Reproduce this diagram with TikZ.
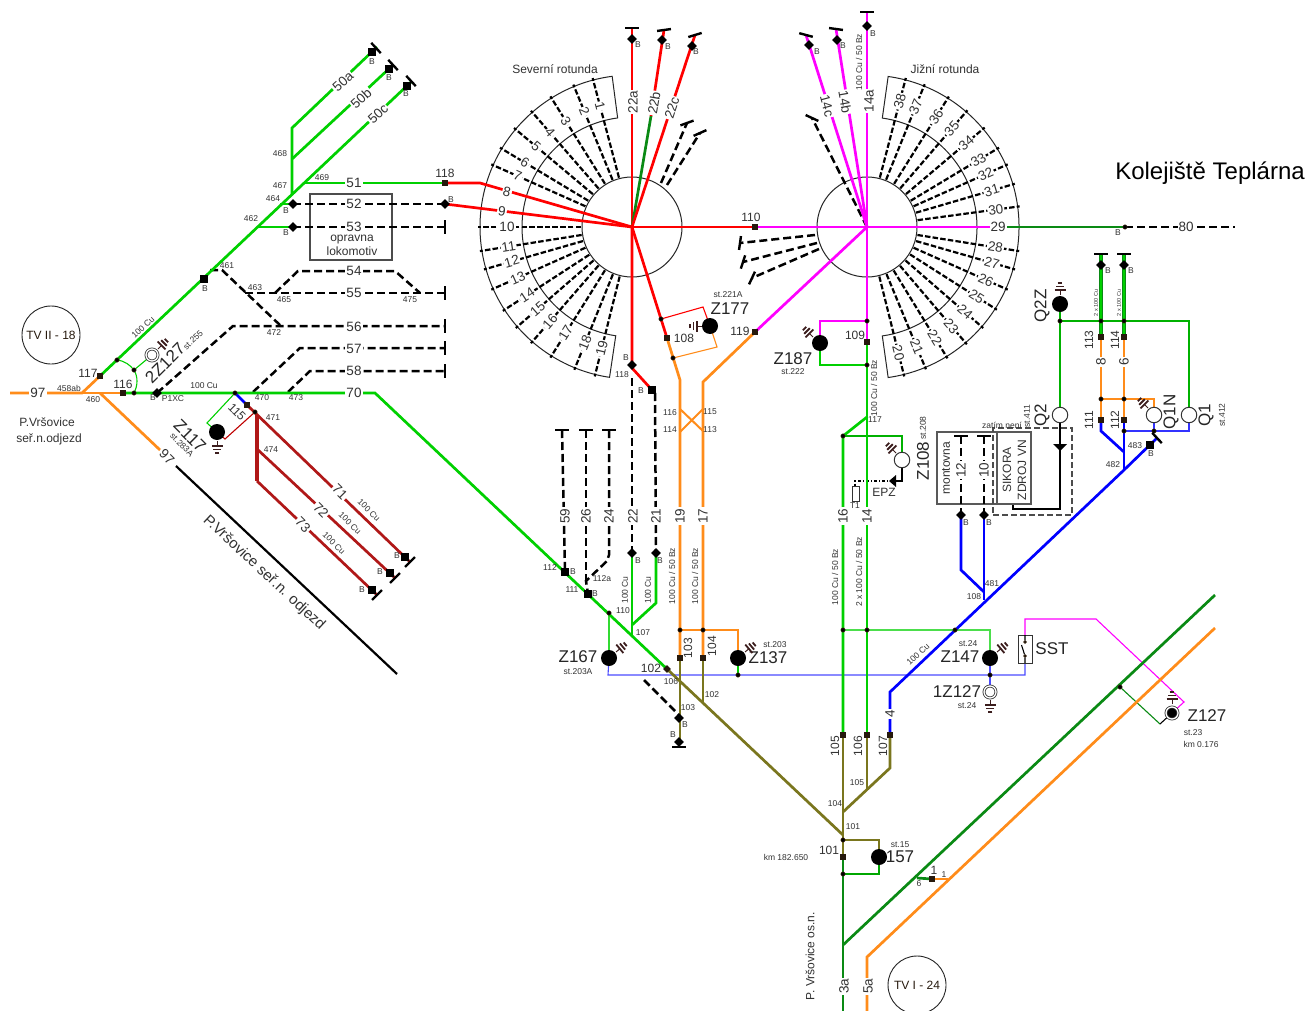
\documentclass[tikz,border=0pt]{standalone}
\usepackage{fontspec}
\setmainfont{Liberation Sans}
\usetikzlibrary{shapes.geometric,positioning,calc}
\definecolor{trgreen}{RGB}{0,208,0}
\definecolor{trdark}{RGB}{10,138,20}
\definecolor{trorange}{RGB}{255,140,26}
\definecolor{trred}{RGB}{255,0,0}
\definecolor{trmag}{RGB}{255,0,255}
\definecolor{trblue}{RGB}{0,0,255}
\definecolor{trbrown}{RGB}{176,24,24}
\definecolor{trolive}{RGB}{122,118,30}
\definecolor{labgrey}{RGB}{50,50,50}
\definecolor{gndbrown}{RGB}{60,30,30}
\tikzset{
  tgreen/.style={draw=trgreen,line width=2.7},
  tdark/.style={draw=trdark,line width=2.7},
  tor/.style={draw=trorange,line width=2.7},
  tred/.style={draw=trred,line width=2.7},
  tmag/.style={draw=trmag,line width=2.7},
  tblue/.style={draw=trblue,line width=2.7},
  tbrown/.style={draw=trbrown,line width=2.7},
  tolive/.style={draw=trolive,line width=2.7},
  tblack/.style={draw=black,line width=2.5,dash pattern=on 8pt off 4pt},
  rdash/.style={draw=black,line width=2.2,dash pattern=on 5.5pt off 2.2pt},
  thinl/.style={line width=1.1},
  tl/.style={fill=white,inner sep=1pt,text=labgrey,font=\fontsize{13.5}{14}\selectfont},
  lab/.style={inner sep=0pt,text=labgrey,font=\fontsize{12}{13}\selectfont},
  smalllab/.style={inner sep=0pt,text=labgrey,font=\fontsize{8.5}{9}\selectfont},
  biglab/.style={inner sep=0pt,text=black!85,font=\fontsize{17}{18}\selectfont},
  tbar/.style={fill=black,inner sep=0pt,minimum width=14,minimum height=2.4},
  sqm/.style={fill=black,inner sep=0pt,minimum size=7.5},
  sqs/.style={fill=black!80!brown,inner sep=0pt,minimum size=5.5},
  dia/.style={diamond,fill=black,inner sep=0pt,minimum size=10},
  dotm/.style={circle,fill=black,draw=black!60!brown,inner sep=0pt,minimum size=4.5},
  lamp/.style={circle,fill=black,inner sep=0pt,minimum size=16},
  hollow/.style={circle,draw=black!80,fill=white,line width=1,inner sep=0pt,minimum size=15.5},
  ringm/.style={circle,draw=black!80,line width=0.8,double=white,double distance=1.3pt,fill=white,inner sep=0pt,minimum size=12},
  tvc/.style={circle,draw=black!85,line width=0.9,inner sep=0pt,minimum size=58,text=black!80!brown,font=\fontsize{12}{13}\selectfont},
  gnd/.pic={
    \draw[gndbrown,line width=1] (0,0)--(5,0);
    \draw[gndbrown,line width=1.8] (5,-5.5)--(5,5.5) (8.5,-4)--(8.5,4) (12,-2.4)--(12,2.4);
  }
}
\begin{document}
\begin{tikzpicture}[x=1pt,y=-1pt]
\path[use as bounding box,fill=white] (0,0) rectangle (1308,1011);
% junctions
\foreach \nm/\px/\py in {
  o0/10/393,o1/82/393,j117/100/376,j116/123/393,d134/134/393,dP/157/393,j115/235/393,j115b/247/405,
  j471/255/412,j70/375/393,j102/667/669,j97/100/393,e97/160/450,bk0/176/466,bk1/397/674,
  e50c/411/82,e50b/393/65,e50a/377/47,b50a/292/128,b50b/292/159,j50/292/195,j51/305/183,j52/280/204,j53/258/227,
  m52/293/204,m53/293/227,s118/445/183,s52/445/204,t53/445/227,t55/445/293,t56/445/326,t57/445/348,t58/445/371,
  sB/204/279,d117/117/360,d2Z/134/370,
  e71/410/562,s71/405/557,e72/395/578,s72/390/573,e73/377/595,s73/372/590,k474/257/449,k473/257/481,k471/257/415,
  CN/632/227,CS/867/227,t22a/632/28,t22b/664/30,g22b/651/116,t22c/695/35,t14a/867/12,t14b/836/29,t14c/806/35,
  s110/755/227,s119/755/332,s109/867/342,s108/667/338,bN/632/368,sN/652/390,mN/632/365,
  j19/680/380,j17/703/382,x1/680/409,x2/703/431,x3/703/409,x4/680/432,s103/680/658,s104/703/658,
  e103/680/742,e104/703/703,jOl/843/835,s105/843/735,s106/867/735,s107/890/735,o106/867/790,o104/843/812,o107/890/768,
  s101/843/857,dk0/843/1011,dk1/843/945,dk2/1215/595,or0/867/1011,or1/867/957,or2/1215/628,
  g16/843/436,g117/867/417,d1/843/630,d2/867/630,d3/955/630,j22/632/553,j21/656/553,j107/632/635,j110/632/625,j110b/656/603,
  s112/565/572,s111/588/594,d167/609/613,c26/586/581,c24a/609/555,c24b/607/561,
  z29/1005/227,z80/1125/227,e80/1235/227,b1/890/692,e483/1157/438,s483/1150/445,j482/1124/470,j481/984/600,k481/984/592,k12/961/570,
  m12/961/515,m10/984/515,t113/1101/254,t114/1124/254,s113/1101/337,s114/1124/337,s111r/1101/420,s112r/1124/420,k111/1101/431,k112/1124/452,
  jg1/1060/321,jg2/1101/321,jg3/1124/321,jo1/1101/399,jo2/1124/399,jb1/1124/431,jb2/1154/431,
  lamp2Z/152/355,lamp117/217/432,lamp177/710/326,lamp187/820/343,lamp167/609/658,lamp137/738/658,lamp147/990/658,lamp157/879/857,lampQ2Z/1060/304,
  r1Z/990/692,rZ127/1172/713,cZ108/902/460,cQ2/1060/415,cQ1N/1154/415,cQ1/1189/415,d990/990/675,d738/738/675,dZ127/1120/687,
  d177a/661/319,d177b/673/358,d187a/867/321,d187b/867/365,d157a/843/840,d157b/843/874,cr1/917/878,cr2/932/879,cr3/948/879}
  {\coordinate (\nm) at (\px,\py);}
% thin relay wires
\draw[thinl,trgreen] (d117) .. controls (125,361) and (130,365) .. (d2Z) .. controls (138,377) and (138,385) .. (d134);
\draw[thinl,trgreen] (d2Z) -- (lamp2Z);
\draw[thinl,trgreen] (j115) -- (207,423) -- (lamp117);
\draw[thinl,red!75!black] (lamp117) -- (225,439) -- (j471);
\draw[thinl,trred] (d177a) -- (703,307) -- (lamp177);
\draw[thinl,trorange] (d177b) -- (717,347) -- (lamp177);
\draw[thinl,trmag] (d187a) -- (820,321) -- (lamp187);
\draw[thinl,trgreen] (lamp187) -- (820,365) -- (d187b);
\draw[thinl,trgreen!80!white] (d167) -- (lamp167);
\draw[thinl,blue!70!white] (lamp167) -- (608,675) -- (1025,675) -- (1025,660);
\draw[thinl,trorange] (680,630) -- (738,630) -- (lamp137);
\draw[thinl,trgreen] (lamp137) -- (d738);
\draw[thinl,trgreen!70!white] (d1) -- (990,630) -- (lamp147);
\draw[thinl,blue!70!white] (lamp147) -- (r1Z);
\draw[thinl,trmag] (1025,636) -- (1025,619) -- (1096,619) -- (1184,702) -- (rZ127);
\draw[thinl,trdark] (dZ127) -- (1160,724);
\draw[thinl,black] (1160,724) -- (rZ127);
\draw[thinl,trgreen!85!black] (g16) -- (902,436) -- (cZ108);
\draw[thinl,black] (cZ108) -- (902,481) -- (893,481);
\draw[thinl,black,dash dot] (893,481) -- (855,481) -- (855,486);
\fill (896,475) -- (889,481) -- (896,487) -- cycle;
\draw[thinl,trgreen!85!black] (lampQ2Z) -- (jg1) -- (1189,321) -- (cQ1);
\draw[thinl,trgreen!85!black] (jg1) -- (cQ2);
\draw[line width=1.1,black] (cQ2) -- (1060,509) -- (1013,509) -- (1013,504);
\fill (1053,444) -- (1067,444) -- (1060,451) -- cycle;
\draw[thinl,trorange] (jo1) -- (1154,399) -- (cQ1N);
\draw[thinl,blue!80!white] (jb1) -- (1189,431) -- (cQ1);
\draw[thinl,blue!80!white] (jb2) -- (cQ1N);
\draw[thinl,trolive] (d157a) -- (879,840) -- (lamp157);
\draw[thinl,trgreen!80!black] (lamp157) -- (879,874) -- (d157b);
% boxes
\node[draw=black!70,line width=1.1,inner sep=0pt,minimum width=82,minimum height=66] (boxOpr) at (351,227) {};
\node[draw=black!65,line width=1.1,inner sep=0pt,minimum width=60,minimum height=72] (boxMon) at (967,468) {};
\node[draw=black!70,line width=1.1,dash pattern=on 6pt off 3pt,inner sep=0pt,minimum width=79,minimum height=87] (boxZat) at (1032.5,471.5) {};
\node[draw=black!65,line width=1.1,fill=white,inner sep=0pt,minimum width=34,minimum height=72] (boxSik) at (1014,468) {};
% rotundas
\draw[black!85,line width=1] (CN) circle[radius=50pt] (CS) circle[radius=50pt];
\draw[black!85,line width=1] (CN) ++(97.5:152pt) arc[start angle=97.5,end angle=261.5,radius=152pt]
  -- ($(CN)+(261.5:110pt)$) arc[start angle=261.5,end angle=97.5,radius=110pt] -- cycle;
\draw[black!85,line width=1] (CS) ++(82:152pt) arc[start angle=82,end angle=-82,radius=152pt]
  -- ($(CS)+(-82:110pt)$) arc[start angle=-82,end angle=82,radius=110pt] -- cycle;
\foreach \ang/\num in {104.8/1,112.4/2,122/3,131/4,140/5,149/6,156/7,180/10,189/11,196/12,204/13,213/14,221/15,229/16,238/17,248/18,256/19}{
  \draw[rdash] (CN) ++(\ang:51pt) -- ++(\ang:103pt);
  \path (CN) ++(\ang:125pt) node[tl,rotate=\ang-180] (rn\num) {\num};
}
\foreach \ang/\num in {75.4/38,68/37,57.9/36,49.3/35,40.2/34,31/33,24/32,16.3/31,7.7/30,-9/28,-16/27,-24/26,-32.5/25,-41/24,-49.6/23,-58.5/22,-67.5/21,-76/20}{
  \draw[rdash] (CS) ++(\ang:51pt) -- ++(\ang:103pt);
  \path (CS) ++(\ang:130pt) node[tl,rotate=\ang] (rs\num) {\num};
}
% dashed tracks
\draw[tblack] (661,183) -- (687,123);
\draw[tblack] (667,185) -- (700,133);
\draw[tblack] (CS) -- (812,118);
\draw[tblack] (815,235) -- (740,243);
\draw[tblack] (817,243) -- (743,262);
\draw[tblack] (819,249) -- (752,278);
\draw[tblack] (m52) -- (s52);
\draw[tblack] (m53) -- (t53);
\draw[tblack] (245,293) -- (t55);
\draw[tblack] (275,293) -- (298,271) -- (395,271) -- (420,293);
\draw[tblack] (210,270) -- (222,270) -- (282,327);
\draw[tblack] (dP) -- (233,326) -- (t56);
\draw[tblack] (253,392) -- (300,348) -- (t57);
\draw[tblack] (288,392) -- (310,371) -- (t58);
\draw[tblack] (z80) -- (e80);
\draw[tblack] (632,378) -- (j22);
\draw[tblack] (655,393) -- (j21);
\draw[tblack] (562,430) -- (s112);
\draw[tblack] (586,430) -- (c26);
\draw[tblack] (609,430) -- (c24a) -- (c24b) -- (c26) -- (s111);
\draw[tblack] (644,680) -- (678,714);
\draw[tblack] (961,436) -- (m12);
\draw[tblack] (984,436) -- (m10);
% coloured tracks
\draw[tor] (o0) -- (o1) -- (j117);
\draw[tor] (o1) -- (j116);
\draw[tor] (j97) -- (e97);
\draw[black,line width=2.2] (bk0) -- (bk1);
\draw[tgreen] (j117) -- (e50c);
\draw[tgreen] (j50) -- (b50a) -- (e50a);
\draw[tgreen] (b50b) -- (e50b);
\draw[tgreen] (j51) -- (s118);
\draw[tred] (s118) -- (480,183) -- (CN);
\draw[tred] (s52) -- (CN);
\draw[tgreen] (j52) -- (m52);
\draw[tgreen] (j53) -- (m53);
\draw[tgreen] (j116) -- (j70) -- (j102);
\draw[tblue] (j115) -- (j115b);
\draw[tbrown] (j115b) -- (e71);
\draw[tbrown,line width=3.2] (k471) -- (k473);
\draw[tbrown] (k474) -- (e72);
\draw[tbrown] (k473) -- (e73);
\draw[tred] (CN) -- (t22a);
\draw[tdark] (CN) -- (g22b);
\draw[tred] (g22b) -- (t22b);
\draw[tred] (CN) -- (t22c);
\draw[tred] (CN) -- (s110);
\draw[tred] (CN) -- (s108);
\draw[tred] (CN) -- (bN) -- (sN);
\draw[tor] (s108) -- (j19) -- (s103);
\draw[tor] (s119) -- (j17) -- (s104);
\draw[tor,line width=2] (x1) -- (x2) (x3) -- (x4);
\draw[tmag] (s110) -- (CS) -- (990,227);
\draw[tmag] (CS) -- (s119);
\draw[tmag] (t14a) -- (s109);
\draw[tmag] (CS) -- (t14b);
\draw[tmag] (CS) -- (t14c);
\draw[tdark] (z29) -- (z80);
\draw[tgreen] (s109) -- (s106);
\draw[tgreen] (g117) -- (g16) -- (s105);
\draw[tgreen] (j22) -- (j107);
\draw[tgreen] (j21) -- (j110b) -- (j110);
\draw[tor] (s113) -- (s111r);
\draw[tor] (s114) -- (s112r);
\draw[trdark,line width=4.4] (t113) -- (s113) (t114) -- (s114);
\draw[trgreen,line width=2.4] (t113) -- (s113) (t114) -- (s114);
\draw[tblue] (s111r) -- (k111) -- (k112);
\draw[tblue] (s112r) -- (j482);
\draw[tblue] (e483) -- (j482) -- (b1) -- (890,730) -- (s107);
\draw[tblue] (m12) -- (k12) -- (k481);
\draw[tblue] (m10) -- (j481);
\draw[tolive] (j102) -- (jOl);
\draw[tolive] (s103) -- (e103);
\draw[tolive] (s104) -- (e104);
\draw[tolive] (s105) -- (s101);
\draw[tolive] (s106) -- (o106);
\draw[tolive] (s107) -- (o107) -- (o104);
\draw[tdark] (s101) -- (dk0);
\draw[tdark] (dk1) -- (dk2);
\draw[tor] (or0) -- (or1) -- (or2);
\draw[tdark] (cr1) -- (cr2);
\draw[tor] (cr2) -- (cr3);
% track labels
\foreach \px/\py/\rt/\txt in {
  38/393/0/97,167/457/-45/97,354/183/0/51,354/204/0/52,354/227/0/53,354/271/0/54,354/293/0/55,354/327/0/56,354/349/0/57,354/371/0/58,354/393/0/70,
  343/82/42/50a,361/98/42/50b,378/114/42/50c,340/492/-45/71,321/510/-45/72,303/525/-45/73,
  507/192/-14/8,502/211/-7/9,998/227/0/29,
  633/102/90/22a,654/103/80/22b,672/108/72/22c,827/106/-75/14c,845/102/-80/14b,869/101/90/14a,
  565/516/90/59,586/516/90/26,609/516/90/24,633/516/90/22,656/516/90/21,680/516/90/19,703/516/90/17,843/516/90/16,867/516/90/14,
  961/470/90/12,984/470/90/10,1186/227/0/80,890/714/90/4,1101/362/90/8,1124/362/90/6,844/986/90/3a,868/986/90/5a}
  {\node[tl,rotate=\rt] (t\px-\py) at (\px,\py) {\txt};}
% plain labels
\foreach \px/\py/\rt/\txt in {
  445/173/0/118,88/373/0/117,123/384/0/116,751/217/0/110,684/338/0/108,740/331/0/119,855/335/0/109,651/668/0/102,
  688/648/90/103,712/646/90/104,835/746/90/105,858/746/90/106,883/746/90/107,829/850/0/101,
  1089/340/90/113,1115/340/90/114,1089/420/90/111,1115/420/90/112,237/412/-45/115,
  47/422/0/P.Vršovice,49/439/0/seř.n.odjezd,352/240/0/opravna,352/251/0/lokomotiv,555/69/0/Severní rotunda,945/69/0/Jižní rotunda,
  884/492/0/EPZ,946/468/90/montovna,1007/470/90/SIKORA,1022/470/90/ZDROJ VN,810/956/90/P. Vršovice os.n.,934/870/0/1}
  {\node[lab,rotate=\rt] (l\px-\py) at (\px,\py) {\txt};}
\node[lab,rotate=-43,font=\fontsize{15}{16}\selectfont] (Vrs) at (264,573) {P.Vršovice seř.n. odjezd};
% small labels
\foreach \px/\py/\rt/\txt in {
  280/154/0/468,280/186/0/467,322/178/0/469,273/199/0/464,251/219/0/462,227/266/0/461,255/288/0/463,284/300/0/465,410/300/0/475,274/333/0/472,
  143/327/43/100 Cu,193/340/43/st.255,69/388/0/458ab,93/400/0/460,153/398/0/B,173/399/0/P1XC,204/386/0/100 Cu,262/398/0/470,296/398/0/473,273/418/0/471,271/450/0/474,
  182/445/-45/st.283A,369/510/-45/100 Cu,350/523/-45/100 Cu,334/543/-45/100 Cu,372/62/0/B,389/78/0/B,406/94/0/B,286/211/0/B,286/233/0/B,205/289/0/B,397/556/0/B,380/572/0/B,362/590/0/B,451/200/0/B,
  638/45/0/B,668/47/0/B,696/52/0/B,626/358/0/B,622/375/0/118,641/391/0/B,728/295/0/st.221A,817/52/0/B,843/46/0/B,873/34/0/B,
  859/62/90/{100 Cu / 50 Bz},875/420/0/117,874/388/90/{100 Cu / 50 Bz},835/577/90/{100 Cu / 50 Bz},859/572/90/{2 x 100 Cu / 50 Bz},793/372/0/st.222,
  1118/233/0/B,1108/271/0/B,1131/271/0/B,1135/446/0/483,1151/454/0/B,1113/465/0/482,1027/416/90/st.411,1222/415/90/st.412,1002/425/0/zatím není,
  966/523/0/B,989/523/0/B,855/506/0/T1,992/584/0/481,974/597/0/108,550/568/0/112,573/572/0/B,572/590/0/111,595/594/0/B,602/579/0/112a,638/561/0/B,660/561/0/B,
  625/590/90/100 Cu,648/590/90/100 Cu,623/611/0/110,643/633/0/107,670/413/0/116,670/430/0/114,710/412/0/115,710/430/0/113,672/576/90/{100 Cu / 50 Bz},695/576/90/{100 Cu / 50 Bz},
  578/672/0/st.203A,671/682/0/106,712/695/0/102,688/708/0/103,685/725/0/B,673/735/0/B,775/645/0/st.203,857/783/0/105,835/804/0/104,853/827/0/101,786/857/0/km 182.650,900/845/0/st.15,
  968/644/0/st.24,967/706/0/st.24,1193/733/0/st.23,1201/744/0/km 0.176,919/884/0/6,944/875/0/1,918/654/43/100 Cu,923/428/90/st.208}
  {\node[smalllab,rotate=\rt] (s\px-\py) at (\px,\py) {\txt};}
\node[smalllab,rotate=90,font=\fontsize{5.5}{6}\selectfont] (c113) at (1096,303) {2 x 100 Cu};
\node[smalllab,rotate=90,font=\fontsize{5.5}{6}\selectfont] (c114) at (1119,303) {2 x 100 Cu};
% big labels
\foreach \px/\py/\rt/\txt in {
  165/363/45/2Z127,190/436/-45/Z117,730/309/0/Z177,793/359/0/Z187,578/657/0/Z167,768/658/0/Z137,960/657/0/Z147,957/692/0/1Z127,1207/716/0/Z127,900/857/0/157,1052/649/0/SST,
  923/461/90/Z108,1042/306/90/Q2Z,1042/415/90/Q2,1171/412/90/Q1N,1206/415/90/Q1}
  {\node[biglab,rotate=\rt] (b\px-\py) at (\px,\py) {\txt};}
\node[inner sep=0pt,font=\fontsize{24}{25}\selectfont] (Tepl) at (1210,173) {Kolejiště Teplárna};
\node[tvc] (TV2) at (51,335) {TV II - 18};
\node[tvc] (TV1) at (917,985) {TV I - 24};
% markers
\foreach \nm in {sB,s71,s72,s73,sN,s112,s111,s483} {\node[sqm] (q\nm) at (\nm) {};}
\node[sqm] (q50a) at (372,52) {};
\node[sqm] (q50b) at (389,69) {};
\node[sqm] (q50c) at (407,86) {};
\foreach \nm in {j117,j116,s118,s110,s119,s109,s108,s103,s104,s105,s106,s107,s101,s113,s114,s111r,s112r,cr2,j115b} {\node[sqs] (q\nm) at (\nm) {};}
\node[sqs,rotate=45] (q102) at (j102) {};
\foreach \nm in {m52,m53,s52,dP,j22,j21,mN,m12,m10} {\node[dia] (d\nm) at (\nm) {};}
\foreach \px/\py in {632/39,662/40,692/46,837/40,809/45,867/26,679/718,679/742,1101/265,1124/265} {\node[dia] (d\px-\py) at (\px,\py) {};}
\foreach \nm in {d117,d2Z,d134,j471,d177a,d177b,d187a,d187b,g16,d1,d2,d3,d990,d738,d167,jg1,jg2,jg3,jo1,jo2,jb1,jb2,d157a,d157b,dZ127,z80,j115} {\node[dotm] (p\nm) at (\nm) {};}
\foreach \px/\py in {680/630,703/630} {\node[dotm] (p\px) at (\px,\py) {};}
% T ends
\foreach \px/\py/\rt in {376/48/-47,393/65/-47,411/81/-47,445/227/90,445/293/90,445/326/90,445/348/90,445/371/90,410/562/45,395/578/45,377/595/45,
  632/28/0,664/30/8,695/35/17,687/123/20,700/133/24,867/12/0,836/29/-8,806/35/-15,812/118/-25,740/243/82,743/262/72,752/278/65,
  562/430/0,586/430/0,609/430/0,679/747/0,961/436/0,984/436/0,1101/254/0,1124/254/0,1157/438/-47}
  {\node[tbar,rotate=\rt] (e\px-\py) at (\px,\py) {};}
% signals
\foreach \nm in {lamp117,lamp177,lamp187,lamp167,lamp137,lamp147,lamp157,lampQ2Z} {\node[lamp] (n\nm) at (\nm) {};}
\foreach \nm in {cZ108,cQ2,cQ1N,cQ1} {\node[hollow] (n\nm) at (\nm) {};}
\foreach \nm in {lamp2Z,r1Z} {\node[ringm] (n\nm) at (\nm) {};}
\node[ringm,fill=black] (nZ127) at (rZ127) {};
\pic[rotate=45] at (158,349) {gnd};
\pic[rotate=-90] at (217,441) {gnd};
\pic[rotate=180] at (702,326) {gnd};
\pic[rotate=135] at (813,337) {gnd};
\pic[rotate=40] at (616,652) {gnd};
\pic[rotate=40] at (745,652) {gnd};
\pic[rotate=40] at (997,652) {gnd};
\pic[rotate=-90] at (990,700) {gnd};
\pic[rotate=90] at (1172,704) {gnd};
\pic[rotate=90] at (1060,295) {gnd};
\pic[rotate=135] at (1148,408) {gnd};
\pic[rotate=135] at (896,453) {gnd};
% switch and resistor
\node[draw=black!80,line width=1,fill=white,inner sep=0pt,minimum width=14,minimum height=28] (SSTbox) at (1025,649) {};
\node[dotm,minimum size=3] (SSTa) at (1025,642) {};
\node[dotm,minimum size=3] (SSTb) at (1025,656) {};
\draw[thinl] (1025,635) -- (SSTa) (1021.5,645) -- (SSTb) -- (1025,663);
\node[draw=black!80,line width=0.9,fill=white,inner sep=0pt,minimum width=7,minimum height=15] (T1box) at (855.5,493.5) {};
\end{tikzpicture}
\end{document}
